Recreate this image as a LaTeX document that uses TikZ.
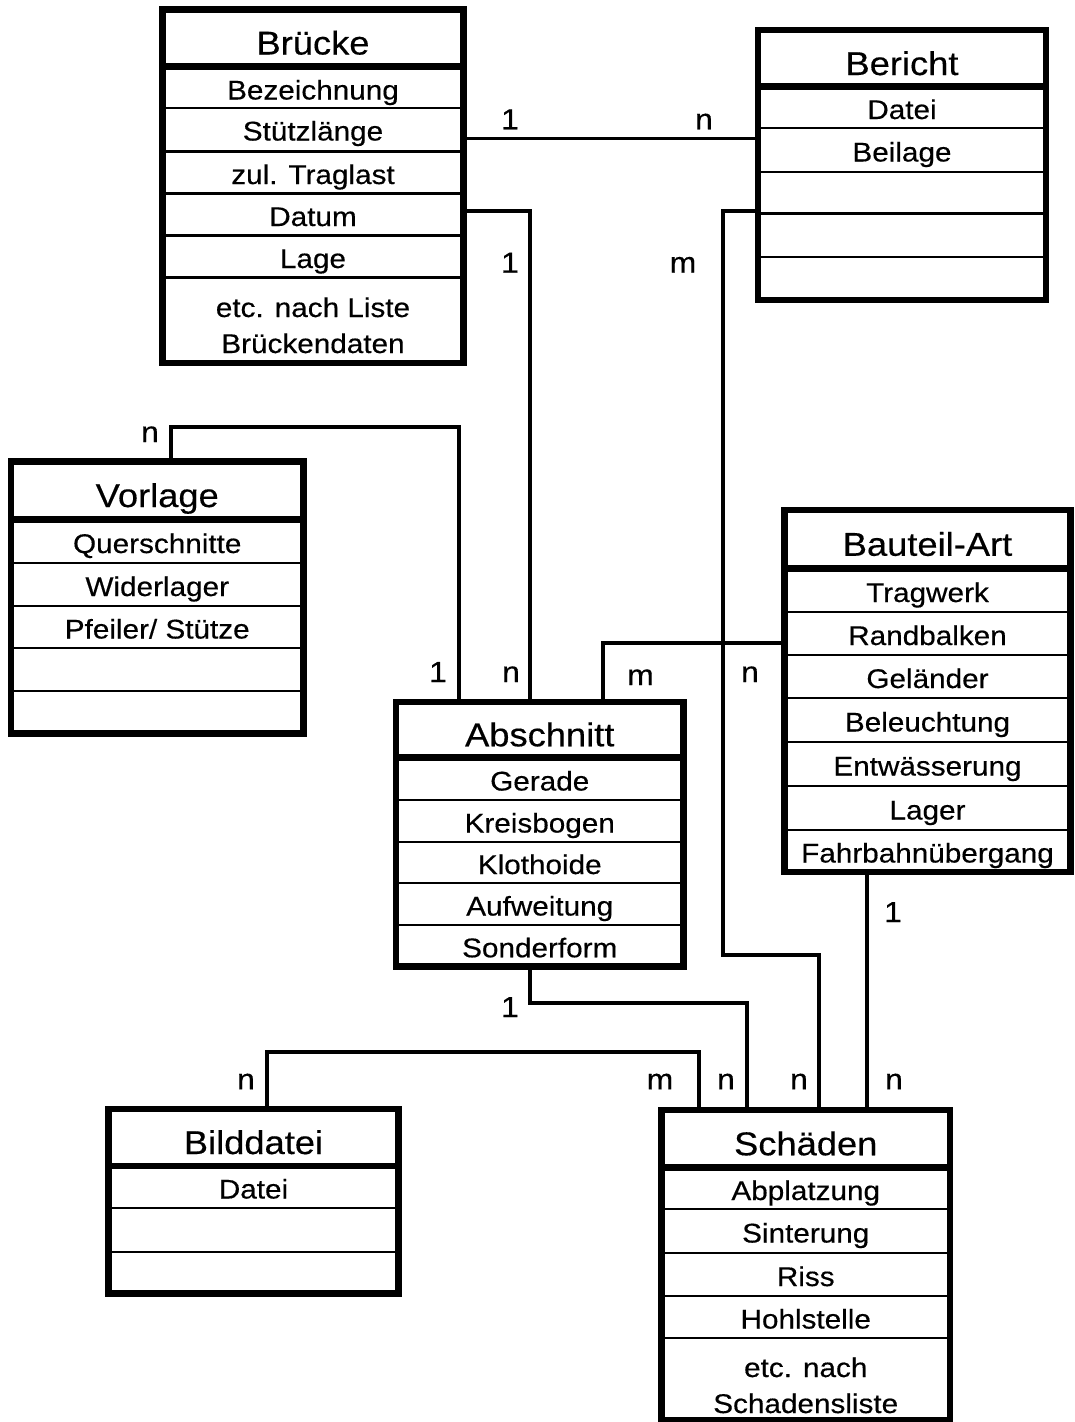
\documentclass[tikz,border=0pt]{standalone}
\usepackage{fontspec}
\setmainfont[FakeStretch=1.1,FakeBold=0.4]{Liberation Sans}
\usetikzlibrary{calc}

% entity box: name, left, top, right, bottom
\newcommand\entitybox[5]{%
  \node[ebox, minimum width={(#4)-(#2)}, minimum height={(#5)-(#3)}]
    (#1) at ({((#2)+(#4))/2},{((#3)+(#5))/2}) {};}
% thick rule under the title
\newcommand\headrule[2]{\draw[hsep] (#1.west |- 0,#2) -- (#1.east |- 0,#2);}
% thin rules between the attribute rows
\newcommand\rowrules[2]{\foreach \yy in {#2}{\draw[rowline] (#1.west |- 0,\yy) -- (#1.east |- 0,\yy);}}

\begin{document}
\begin{tikzpicture}[x=1pt,y=-1pt,
  ebox/.style={draw, rectangle, line width=6.5pt, inner sep=0pt, outer sep=0pt},
  hsep/.style={line width=6.5pt},
  rowline/.style={line width=2.6pt},
  conn/.style={line width=3.6pt},
  ttl/.style={anchor=base, inner sep=0pt, font=\fontsize{33}{38}\selectfont},
  cell/.style={anchor=base, inner sep=0pt, font=\fontsize{27}{32}\selectfont},
  card/.style={anchor=base, inner sep=0pt, font=\fontsize{29}{34}\selectfont},
]
\path[use as bounding box] (0,0) rectangle (1074,1422);
\fill[white] (0,0) rectangle (1074,1422);
\clip (0,0) rectangle (1074,1422);

% ---------- Brücke ----------
\entitybox{brucke}{162.5}{9.5}{463.5}{363}
\headrule{brucke}{66.5}
\rowrules{brucke}{108,151.5,193.5,235.5,277.5}
\node[ttl]  (bru-t) at (brucke.center |- 0,54.5) {Brücke};
\node[cell] (bru-1) at (brucke.center |- 0,99.5) {Bezeichnung};
\node[cell] (bru-2) at (brucke.center |- 0,140.5) {Stützlänge};
\node[cell] (bru-3) at (brucke.center |- 0,184) {zul. Traglast};
\node[cell] (bru-4) at (brucke.center |- 0,226) {Datum};
\node[cell] (bru-5) at (brucke.center |- 0,268) {Lage};
\node[cell] (bru-6) at (brucke.center |- 0,317) {etc. nach Liste};
\node[cell] (bru-7) at (brucke.center |- 0,353) {Brückendaten};

% ---------- Bericht ----------
\entitybox{bericht}{758}{30}{1046}{300}
\headrule{bericht}{86.5}
\rowrules{bericht}{128,172,213.5,257}
\node[ttl]  (ber-t) at (bericht.center |- 0,75) {Bericht};
\node[cell] (ber-1) at (bericht.center |- 0,119) {Datei};
\node[cell] (ber-2) at (bericht.center |- 0,161.5) {Beilage};

% ---------- Vorlage ----------
\entitybox{vorlage}{11}{461.5}{303.5}{733.5}
\headrule{vorlage}{519.5}
\rowrules{vorlage}{563,606,648,691}
\node[ttl]  (vor-t) at (vorlage.center |- 0,507) {Vorlage};
\node[cell] (vor-1) at (vorlage.center |- 0,553) {Querschnitte};
\node[cell] (vor-2) at (vorlage.center |- 0,596) {Widerlager};
\node[cell] (vor-3) at (vorlage.center |- 0,638.5) {Pfeiler/ Stütze};

% ---------- Abschnitt ----------
\entitybox{abschnitt}{396}{702}{683.5}{966.5}
\headrule{abschnitt}{757.5}
\rowrules{abschnitt}{800,842,883,925}
\node[ttl]  (abs-t) at (abschnitt.center |- 0,746.25) {Abschnitt};
\node[cell] (abs-1) at (abschnitt.center |- 0,790.5) {Gerade};
\node[cell] (abs-2) at (abschnitt.center |- 0,832.5) {Kreisbogen};
\node[cell] (abs-3) at (abschnitt.center |- 0,874) {Klothoide};
\node[cell] (abs-4) at (abschnitt.center |- 0,915.5) {Aufweitung};
\node[cell] (abs-5) at (abschnitt.center |- 0,957.25) {Sonderform};

% ---------- Bauteil-Art ----------
\entitybox{bauteil}{784.5}{510}{1070.5}{872}
\headrule{bauteil}{568.5}
\rowrules{bauteil}{612,655,698,742,786,830}
\node[ttl]  (bau-t) at (bauteil.center |- 0,555.75) {Bauteil-Art};
\node[cell] (bau-1) at (bauteil.center |- 0,602) {Tragwerk};
\node[cell] (bau-2) at (bauteil.center |- 0,645) {Randbalken};
\node[cell] (bau-3) at (bauteil.center |- 0,688) {Geländer};
\node[cell] (bau-4) at (bauteil.center |- 0,731.5) {Beleuchtung};
\node[cell] (bau-5) at (bauteil.center |- 0,775.5) {Entwässerung};
\node[cell] (bau-6) at (bauteil.center |- 0,819.5) {Lager};
\node[cell] (bau-7) at (bauteil.center |- 0,862.5) {Fahrbahnübergang};

% ---------- Bilddatei ----------
\entitybox{bilddatei}{108.5}{1109}{398.5}{1293.5}
\headrule{bilddatei}{1166}
\rowrules{bilddatei}{1208,1252}
\node[ttl]  (bil-t) at (bilddatei.center |- 0,1154) {Bilddatei};
\node[cell] (bil-1) at (bilddatei.center |- 0,1198.5) {Datei};

% ---------- Schäden ----------
\entitybox{schaeden}{661.5}{1110}{950}{1420}
\headrule{schaeden}{1167.5}
\rowrules{schaeden}{1209,1253,1296,1338}
\node[ttl]  (sch-t) at (schaeden.center |- 0,1155.25) {Schäden};
\node[cell] (sch-1) at (schaeden.center |- 0,1200) {Abplatzung};
\node[cell] (sch-2) at (schaeden.center |- 0,1242.5) {Sinterung};
\node[cell] (sch-3) at (schaeden.center |- 0,1286) {Riss};
\node[cell] (sch-4) at (schaeden.center |- 0,1328.5) {Hohlstelle};
\node[cell] (sch-5) at (schaeden.center |- 0,1377) {etc. nach};
\node[cell] (sch-6) at (schaeden.center |- 0,1413) {Schadensliste};

% ---------- relationships ----------
\draw[conn] (brucke.east |- 0,138.5) -- (bericht.west |- 0,138.5);
\draw[conn] (brucke.east |- 0,211) -| (abschnitt.north -| 530,0);
\draw[conn] (vorlage.north -| 171,0) |- (459,427) -- (abschnitt.north -| 459,0);
\draw[conn] (abschnitt.north -| 603,0) |- (bauteil.west |- 0,643);
\draw[conn] (bericht.west |- 0,211) -| (723,955) -| (schaeden.north -| 819,0);
\draw[conn] (abschnitt.south -| 530,0) |- (747,1003) -- (schaeden.north -| 747,0);
\draw[conn] (bilddatei.north -| 267,0) |- (699,1052) -- (schaeden.north -| 699,0);
\draw[conn] (bauteil.south -| 867,0) -- (schaeden.north -| 867,0);

% ---------- cardinalities ----------
\node[card] (k1)  at (510,129.3)  {1};
\node[card] (k2)  at (704,129.3)  {n};
\node[card] (k3)  at (510,272.7)  {1};
\node[card] (k4)  at (683,272.5)  {m};
\node[card] (k5)  at (150,442)    {n};
\node[card] (k6)  at (438,682)    {1};
\node[card] (k7)  at (511,682)    {n};
\node[card] (k8)  at (640.5,685)  {m};
\node[card] (k9)  at (750,682)    {n};
\node[card] (k10) at (893,922)    {1};
\node[card] (k11) at (510,1017)   {1};
\node[card] (k12) at (246,1089.3) {n};
\node[card] (k13) at (660,1089.3) {m};
\node[card] (k14) at (726,1089.3) {n};
\node[card] (k15) at (799,1089.3) {n};
\node[card] (k16) at (894,1089.3) {n};
\end{tikzpicture}
\end{document}
